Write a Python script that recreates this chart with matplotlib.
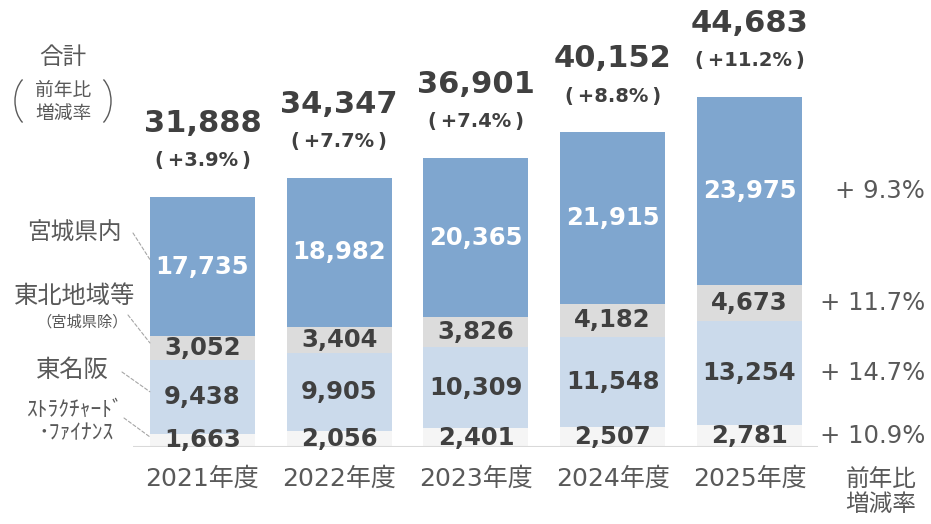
import matplotlib.pyplot as plt
from matplotlib.patches import Arc
from matplotlib.transforms import blended_transform_factory

# ---- data ----
years = ["2021年度", "2022年度", "2023年度", "2024年度", "2025年度"]
sf = [1663, 2056, 2401, 2507, 2781]            # ストラクチャード・ファイナンス
tomeihan = [9438, 9905, 10309, 11548, 13254]   # 東名阪
tohoku = [3052, 3404, 3826, 4182, 4673]        # 東北地域等（宮城県除）
miyagi = [17735, 18982, 20365, 21915, 23975]   # 宮城県内
totals = [31888, 34347, 36901, 40152, 44683]
total_growth = ["+3.9%", "+7.7%", "+7.4%", "+8.8%", "+11.2%"]
seg_growth = ["+10.9%", "+14.7%", "+11.7%", "+9.3%"]  # 下から順

NUM = ["DejaVu Sans", "Noto Sans CJK JP"]
JP = ["Noto Sans CJK JP", "DejaVu Sans"]
plt.rcParams["font.family"] = NUM

COLORS = ["#F5F5F5", "#CBDAEB", "#DCDCDC", "#7FA6CF"]
DARK = "#404040"
GRAY = "#595959"

W, H = 931, 524
fig = plt.figure(figsize=(W / 100, H / 100), dpi=100)

# 背景の注記用（ピクセル座標）
ov = fig.add_axes([0, 0, 1, 1], zorder=0)
ov.set_xlim(0, W)
ov.set_ylim(H, 0)
ov.axis("off")

ax = fig.add_axes([133 / W, 77 / H, 685 / W, 392 / H], zorder=1)
ax.patch.set_alpha(0)

series = [sf, tomeihan, tohoku, miyagi]
x = list(range(len(years)))
bottoms = [0] * len(years)
for s, vals in enumerate(series):
    ax.bar(x, vals, bottom=bottoms, width=0.768, color=COLORS[s], zorder=2)
    for i, v in enumerate(vals):
        ax.text(i, bottoms[i] + v / 2, f"{v:,}", ha="center", va="center",
                fontsize=17.5, fontweight="bold",
                color="white" if s == 3 else DARK, zorder=4)
    bottoms = [b + v for b, v in zip(bottoms, vals)]

ax.set_xlim(-0.508, 4.501)
ax.set_ylim(0, 50000)
ax.axhline(0, color="#D9D9D9", linewidth=1.5, zorder=3)
for sp in ax.spines.values():
    sp.set_visible(False)
ax.set_yticks([])
ax.set_xticks(x)
ax.set_xticklabels(years, fontsize=18, color=GRAY)
ax.tick_params(axis="x", length=0, pad=14)

# 合計と前年比
for i, (t, g) in enumerate(zip(totals, total_growth)):
    ax.annotate(f"{t:,}", (i, t), xytext=(0, 53), textcoords="offset points",
                ha="center", va="center", fontsize=22, fontweight="bold",
                color=DARK)
    ax.annotate(f"(\u2009{g}\u2009)", (i, t), xytext=(0, 26),
                textcoords="offset points", ha="center", va="center",
                fontsize=14, fontweight="bold", color=DARK)

# 右側: セグメント別 前年比増減率（2025年度の各セグメント中央）
tr = blended_transform_factory(fig.transFigure, ax.transData)
b = 0
for s, vals in enumerate(series):
    v = vals[-1]
    ax.text(925 / W, b + v / 2, "+ " + seg_growth[s][1:], transform=tr,
            ha="right", va="center", fontsize=17.5, color=GRAY)
    b += v

ov.text(881, 492, "前年比\n増減率", ha="center", va="center", fontsize=17,
        color=GRAY, family=JP, linespacing=1.1)

# 左側: セグメント名と引出線
ov.text(74, 233, "宮城県内", ha="center", va="center", fontsize=17, color=GRAY, family=JP)
ov.text(75, 296, "東北地域等", ha="center", va="center", fontsize=17.5, color=GRAY, family=JP)
ov.text(82, 322, "（宮城県除）", ha="center", va="center", fontsize=11, color=GRAY, family=JP)
ov.text(72, 370, "東名阪", ha="center", va="center", fontsize=17.5, color=GRAY, family=JP)
ov.text(74, 410, "ｽﾄﾗｸﾁｬｰﾄﾞ", ha="center", va="center", fontsize=15.5, color=GRAY, family=JP)
ov.text(76, 433, "･ﾌｧｲﾅﾝｽ", ha="center", va="center", fontsize=15.5, color=GRAY, family=JP)

leader_from = [(124, 418), (122, 372), (128, 315), (133, 233)]
leader_frac = [0.77, 0.57, 0.71, 0.55]
b = 0
for s, vals in enumerate(series):
    v = vals[0]
    ax.annotate("", xy=(-0.384, b + v * leader_frac[s]), xycoords="data",
                xytext=leader_from[s], textcoords=ov.transData,
                arrowprops=dict(arrowstyle="-", linestyle=(0, (3, 2)),
                                color="#A6A6A6", lw=0.8,
                                shrinkA=0, shrinkB=0))
    b += v

# 左上: 合計（前年比増減率）
ov.text(63, 58, "合計", ha="center", va="center", fontsize=17, color=GRAY, family=JP)
ov.text(63, 90, "前年比", ha="center", va="center", fontsize=13.5, color=GRAY, family=JP)
ov.text(63, 113, "増減率", ha="center", va="center", fontsize=13.5, color=GRAY, family=JP)
ov.add_patch(Arc((35, 101), 40, 55, theta1=120, theta2=240, color=GRAY, lw=1))
ov.add_patch(Arc((91, 101), 40, 55, theta1=-60, theta2=60, color=GRAY, lw=1))

fig.savefig("out.png", dpi=100)
